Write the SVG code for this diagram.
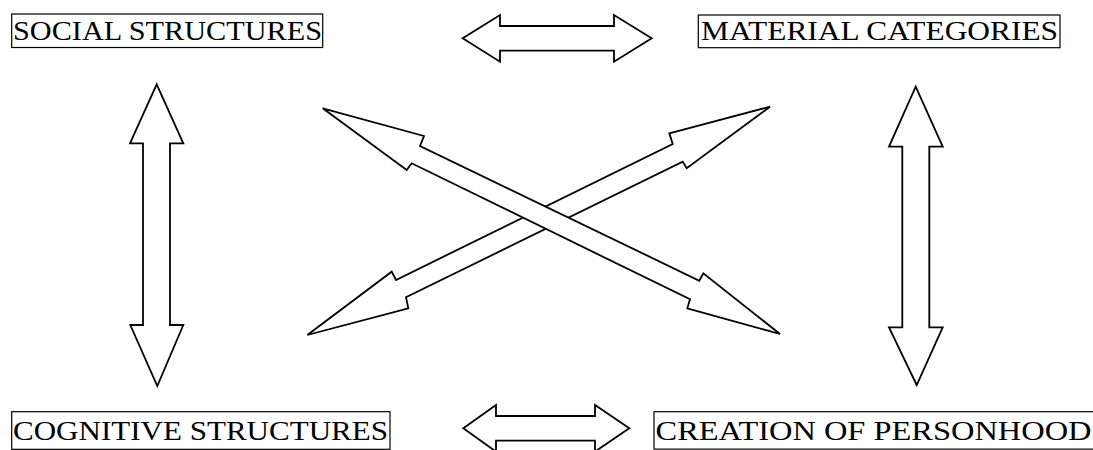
<svg xmlns="http://www.w3.org/2000/svg" width="1093" height="450" viewBox="0 0 1093 450">
<style>
.box{fill:#fff;stroke:#000;stroke-width:1.2}
.lbl{font-family:"Liberation Serif","Times New Roman",serif;font-size:27px;fill:#000}
.arr{fill:#fff;stroke:#000;stroke-width:1.8;stroke-linejoin:miter}
</style>
<rect width="1093" height="450" fill="#fff"/>
<g id="connectors">
<polygon class="arr" points="462.7,38.3 500,15 500,26 614,26 614,15 651.7,38.3 614,61.7 614,50.7 500,50.7 500,61.7"/>
<polygon class="arr" points="463.3,428.3 496,405 496,416 595,416 595,405 629.3,428.3 595,451.6 595,440.7 496,440.7 496,451.6"/>
<polygon class="arr" points="156.7,84.3 183.3,143.3 170,143.3 170,325 183.3,325 157.3,386 130.3,325 143,325 143,143.3 130,143.3"/>
<polygon class="arr" points="915.7,86.7 942.7,146.7 929.3,146.7 929.3,327.3 942.7,327.3 916.7,385 889,327.3 902.3,327.3 902.3,146.7 889,146.7"/>
<polygon class="arr" points="770,106.7 669.3,133.3 672.7,144 396,280 391.7,271.7 307.3,335 408.3,308.3 406,297.3 682.7,161.7 686.7,168.3"/>
<polygon class="arr" points="322.7,108.3 424,136 420,146 699.3,280.7 703.3,273.3 780,334 687.3,308.3 690,299.3 411.7,163.3 406.7,170"/>
</g>
<g id="social">
<rect class="box" x="11.7" y="14" width="311" height="33.5"/>
<text class="lbl" x="13" y="40" textLength="309" lengthAdjust="spacingAndGlyphs">SOCIAL STRUCTURES</text>
</g>
<g id="material">
<rect class="box" x="698.3" y="15" width="361.7" height="32.7"/>
<text class="lbl" x="701" y="40" textLength="357" lengthAdjust="spacingAndGlyphs">MATERIAL CATEGORIES</text>
</g>
<g id="cognitive">
<rect class="box" x="11.7" y="411.7" width="378.3" height="37.6"/>
<text class="lbl" x="13" y="440" textLength="375" lengthAdjust="spacingAndGlyphs">COGNITIVE STRUCTURES</text>
</g>
<g id="personhood">
<rect class="box" x="654" y="411.7" width="445" height="37.4"/>
<text class="lbl" x="655.5" y="440" textLength="436" lengthAdjust="spacingAndGlyphs">CREATION OF PERSONHOOD</text>
</g>
</svg>
